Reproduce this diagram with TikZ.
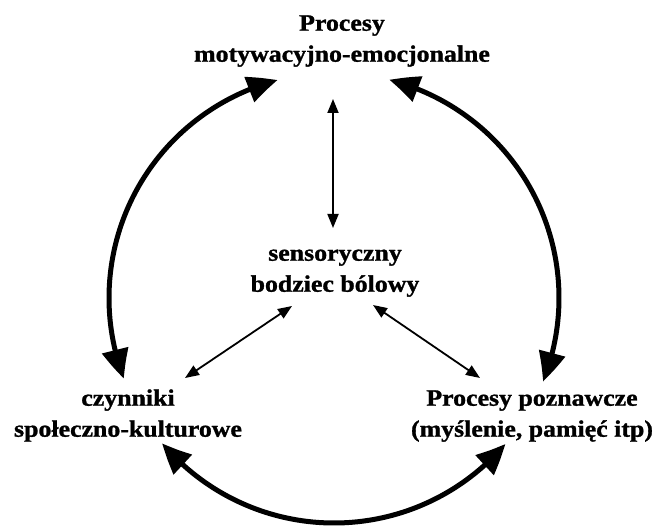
\documentclass[tikz,border=0pt]{standalone}
\usepackage{fontspec}
\newfontfamily\lblfont{Liberation Serif}[FakeStretch=1.1,FakeBold=1.2]
\usetikzlibrary{arrows.meta,bending}
\begin{document}
\begin{tikzpicture}[x=1pt,y=-1pt,
  lbl/.style={font=\lblfont\bfseries\fontsize{23.5}{31}\selectfont, align=center, inner sep=0pt},
  bigarrow/.style={line width=5pt, {Triangle[length=30pt,width=26pt,bend]}-{Triangle[length=30pt,width=26pt,bend]}},
  smallarrow/.style={line width=1.8pt, {Triangle[length=14pt,width=11pt]}-{Triangle[length=14pt,width=11pt]}}]
\useasboundingbox (0,0) rectangle (655,526);
\node[lbl] (top) at (342,40) {\strut Procesy\\\strut motywacyjno-emocjonalne};
\node[lbl] (mid) at (335,270) {\strut sensoryczny\\\strut bodziec bólowy};
\node[lbl] (left) at (128,415) {\strut czynniki\\\strut społeczno-kulturowe};
\node[lbl] (right) at (532,415) {\strut Procesy poznawcze\\\strut (myślenie, pamięć itp)};
\coordinate (o) at (334,298);
% small connectors
\draw[smallarrow] ([shift={(-9,59)}]top.center) -- ([shift={(-2,-42)}]mid.center);
\draw[smallarrow] ([shift={(-43,36)}]mid.center) -- ([shift={(57,-37)}]left.center);
\draw[smallarrow] ([shift={(38,35)}]mid.center) -- ([shift={(-52,-37)}]right.center);
% big arcs
\draw[bigarrow] ([shift={(159:225)}]o) arc[start angle=159, end angle=255.5, radius=225];
\draw[bigarrow] ([shift={(284.2:225)}]o) arc[start angle=284.2, end angle=381.8, radius=225];
\draw[bigarrow] ([shift={(139.8:225)}]o) arc[start angle=139.8, end angle=40.4, radius=225];
\end{tikzpicture}
\end{document}
